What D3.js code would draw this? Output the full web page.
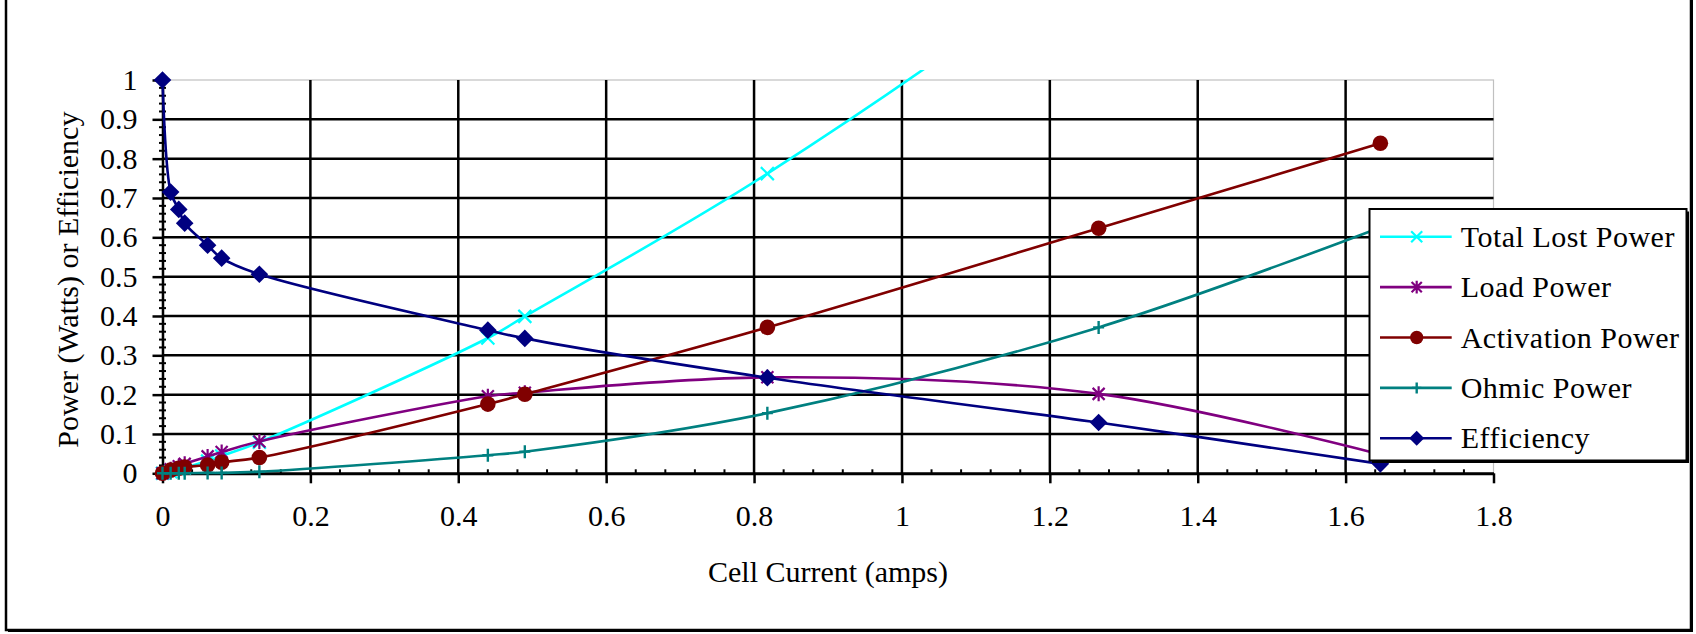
<!DOCTYPE html>
<html>
<head>
<meta charset="utf-8">
<script src="https://cdn.jsdelivr.net/npm/d3@7"></script>
<style>
  html, body { margin: 0; padding: 0; background: #fff; }
  svg { display: block; }
  text { font-family: "Liberation Serif", "Times New Roman", serif; fill: #000; }
</style>
</head>
<body>
<svg id="chart" width="1696" height="634"></svg>
<script>
// ---- data ----
const cellCurrent   = [0, 0.011, 0.022, 0.030, 0.061, 0.080, 0.131, 0.440, 0.490, 0.818, 1.266, 1.647];
const totalLostPower = [0, 0.004, 0.009, 0.014, 0.031, 0.044, 0.079, 0.344, 0.399, 0.762, 1.354, 1.976];
const loadPower      = [0, 0.010, 0.018, 0.024, 0.043, 0.054, 0.081, 0.196, 0.205, 0.244, 0.202, 0.048];
const activationPower = [0, 0.008, 0.013, 0.016, 0.021, 0.028, 0.040, 0.176, 0.201, 0.371, 0.623, 0.839];
const ohmicPower     = [0, 0, 0, 0, 0.001, 0.001, 0.004, 0.046, 0.055, 0.153, 0.371, 0.625];
const efficiency     = [1, 0.715, 0.671, 0.636, 0.580, 0.547, 0.506, 0.364, 0.343, 0.243, 0.129, 0.024];

const seriesNames = ["Total Lost Power", "Load Power", "Activation Power", "Ohmic Power", "Efficiency"];
const xTickValues = [0, 0.2, 0.4, 0.6, 0.8, 1, 1.2, 1.4, 1.6, 1.8];
const yTickValues = [0, 0.1, 0.2, 0.3, 0.4, 0.5, 0.6, 0.7, 0.8, 0.9, 1];
const xTitle = "Cell Current (amps)";
const yTitle = "Power (Watts) or Efficiency";

// ---- setup ----
const svg = d3.select("#chart");
const x = d3.scaleLinear().domain([0, 1.8]).range([162.5, 1493.5]);
const y = d3.scaleLinear().domain([0, 1]).range([473.3, 80]);
const FONT = 30;

const series = [
  { name: seriesNames[0], values: totalLostPower, color: "#00FFFF", marker: "x" },
  { name: seriesNames[1], values: loadPower, color: "#800080", marker: "star" },
  { name: seriesNames[2], values: activationPower, color: "#800000", marker: "circle" },
  { name: seriesNames[3], values: ohmicPower, color: "#008080", marker: "plus" },
  { name: seriesNames[4], values: efficiency, color: "#000080", marker: "diamond" }
];

// outer frame with shadow
svg.append("rect").attr("x", 8).attr("y", -3).attr("width", 1685).attr("height", 635)
  .attr("fill", "#000");
svg.append("rect").attr("x", 6).attr("y", -5).attr("width", 1685).attr("height", 635)
  .attr("fill", "#fff").attr("stroke", "#000").attr("stroke-width", 2.5);

// plot area border (light gray)
svg.append("rect")
  .attr("x", x(0)).attr("y", y(1))
  .attr("width", x(1.8) - x(0)).attr("height", y(0) - y(1))
  .attr("fill", "none").attr("stroke", "#c0c0c0").attr("stroke-width", 1.2);

// gridlines
const grid = svg.append("g");
grid.selectAll("line.h").data(yTickValues.filter(v => v > 0 && v < 1)).join("line")
  .attr("x1", x(0)).attr("x2", x(1.8))
  .attr("y1", d => y(d)).attr("y2", d => y(d))
  .attr("stroke", "#000").attr("stroke-width", 2.5);
grid.selectAll("line.v").data(xTickValues.filter(v => v > 0 && v < 1.8)).join("line")
  .attr("x1", d => x(d)).attr("x2", d => x(d))
  .attr("y1", y(0)).attr("y2", y(1))
  .attr("stroke", "#000").attr("stroke-width", 2.5);

// minor ticks
const xMinor = d3.range(0, 1.8001, 0.04).filter(v => Math.abs(v / 0.2 - Math.round(v / 0.2)) > 1e-6);
svg.append("g").selectAll("line").data(xMinor).join("line")
  .attr("x1", d => x(d)).attr("x2", d => x(d))
  .attr("y1", y(0) - 4).attr("y2", y(0) + 1)
  .attr("stroke", "#000").attr("stroke-width", 2);
const yMinor = d3.range(0, 1.0001, 0.02).filter(v => Math.abs(v / 0.1 - Math.round(v / 0.1)) > 1e-6);
svg.append("g").selectAll("line").data(yMinor).join("line")
  .attr("x1", x(0) - 3.5).attr("x2", x(0) + 3.5)
  .attr("y1", d => y(d)).attr("y2", d => y(d))
  .attr("stroke", "#000").attr("stroke-width", 2);

// axes
const fmt = d => d3.format("")(+d.toFixed(1));
const xAxis = svg.append("g").attr("transform", `translate(0,${y(0)})`)
  .call(d3.axisBottom(x).tickValues(xTickValues).tickSize(10).tickSizeOuter(0).tickPadding(21.4).tickFormat(fmt));
const yAxis = svg.append("g").attr("transform", `translate(${x(0)},0)`)
  .call(d3.axisLeft(y).tickValues(yTickValues).tickSize(10).tickSizeOuter(0).tickPadding(15).tickFormat(fmt));
[xAxis, yAxis].forEach(a => {
  a.selectAll("text").style("font-size", FONT + "px").style("font-family", '"Liberation Serif", serif').attr("fill", "#000");
  a.selectAll("line").attr("stroke", "#000").attr("stroke-width", 2.5);
});
xAxis.select("path.domain").attr("stroke", "#000").attr("stroke-width", 3);
yAxis.select("path.domain").attr("stroke", "#000").attr("stroke-width", 2.5);
yAxis.selectAll(".tick text").attr("dy", "0.32em");
// top tick at 1 is not drawn as a gridline; keep its tick

// axis titles
svg.append("text").attr("x", (x(0) + x(1.8)) / 2).attr("y", 582)
  .attr("text-anchor", "middle").style("font-size", FONT + "px").text(xTitle);
svg.append("text").attr("transform", `translate(78,${(y(0) + y(1)) / 2 + 3}) rotate(-90)`)
  .attr("text-anchor", "middle").style("font-size", FONT + "px").text(yTitle);

// clip
svg.append("defs").append("clipPath").attr("id", "plotclip")
  .append("rect").attr("x", x(0) - 15).attr("y", 70).attr("width", x(1.8) - x(0) + 30).attr("height", y(0) - 70 + 15);

// marker drawer
function drawMarker(g, type, cx, cy, color, scale = 1) {
  const s = scale;
  if (type === "x") {
    const r = 6.5 * s;
    g.append("path").attr("d", `M${cx - r},${cy - r}L${cx + r},${cy + r}M${cx - r},${cy + r}L${cx + r},${cy - r}`)
      .attr("stroke", color).attr("stroke-width", 2.2).attr("fill", "none");
  } else if (type === "star") {
    const r = 6 * s, v = 7.5 * s;
    g.append("path").attr("d", `M${cx - r},${cy - r}L${cx + r},${cy + r}M${cx - r},${cy + r}L${cx + r},${cy - r}M${cx},${cy - v}L${cx},${cy + v}`)
      .attr("stroke", color).attr("stroke-width", 2.2).attr("fill", "none");
  } else if (type === "circle") {
    g.append("circle").attr("cx", cx).attr("cy", cy).attr("r", 7.8 * s).attr("fill", color);
  } else if (type === "plus") {
    const v = 6.5 * s, h = 5.5 * s;
    g.append("path").attr("d", `M${cx},${cy - v}L${cx},${cy + v}M${cx - h},${cy}L${cx + h},${cy}`)
      .attr("stroke", color).attr("stroke-width", 2.4).attr("fill", "none");
  } else if (type === "diamond") {
    const r = 8.8 * s;
    g.append("path").attr("d", `M${cx},${cy - r}L${cx + r},${cy}L${cx},${cy + r}L${cx - r},${cy}Z`).attr("fill", color);
  }
}

// series
const plot = svg.append("g").attr("clip-path", "url(#plotclip)");
const line = d3.line().x(d => x(d[0])).y(d => y(d[1])).curve(d3.curveCatmullRom.alpha(0.5));
series.forEach(s => {
  const pts = cellCurrent.map((c, i) => [c, s.values[i]]);
  const g = plot.append("g");
  g.append("path").datum(pts).attr("d", line)
    .attr("fill", "none").attr("stroke", s.color).attr("stroke-width", 2.6).attr("stroke-linejoin", "round");
  pts.forEach(p => drawMarker(g, s.marker, x(p[0]), y(p[1]), s.color));
});

// legend
const lg = svg.append("g");
const lx = 1369.5, ly = 209, lw = 1686.5 - 1369.5, lh = 460.5 - 209;
lg.append("rect").attr("x", lx + 2.5).attr("y", ly + 2.5).attr("width", lw).attr("height", lh).attr("fill", "#000");
lg.append("rect").attr("x", lx).attr("y", ly).attr("width", lw).attr("height", lh)
  .attr("fill", "#fff").attr("stroke", "#000").attr("stroke-width", 2);
series.forEach((s, i) => {
  const cy = 236.7 + i * 50.4;
  lg.append("line").attr("x1", 1380).attr("x2", 1451.7).attr("y1", cy).attr("y2", cy)
    .attr("stroke", s.color).attr("stroke-width", 2.6);
  drawMarker(lg, s.marker, 1416.7, cy, s.color, 0.85);
  lg.append("text").attr("x", 1460.7).attr("y", cy + 10).style("font-size", FONT + "px")
    .style("letter-spacing", "0.5px").text(s.name);
});
</script>
</body>
</html>
